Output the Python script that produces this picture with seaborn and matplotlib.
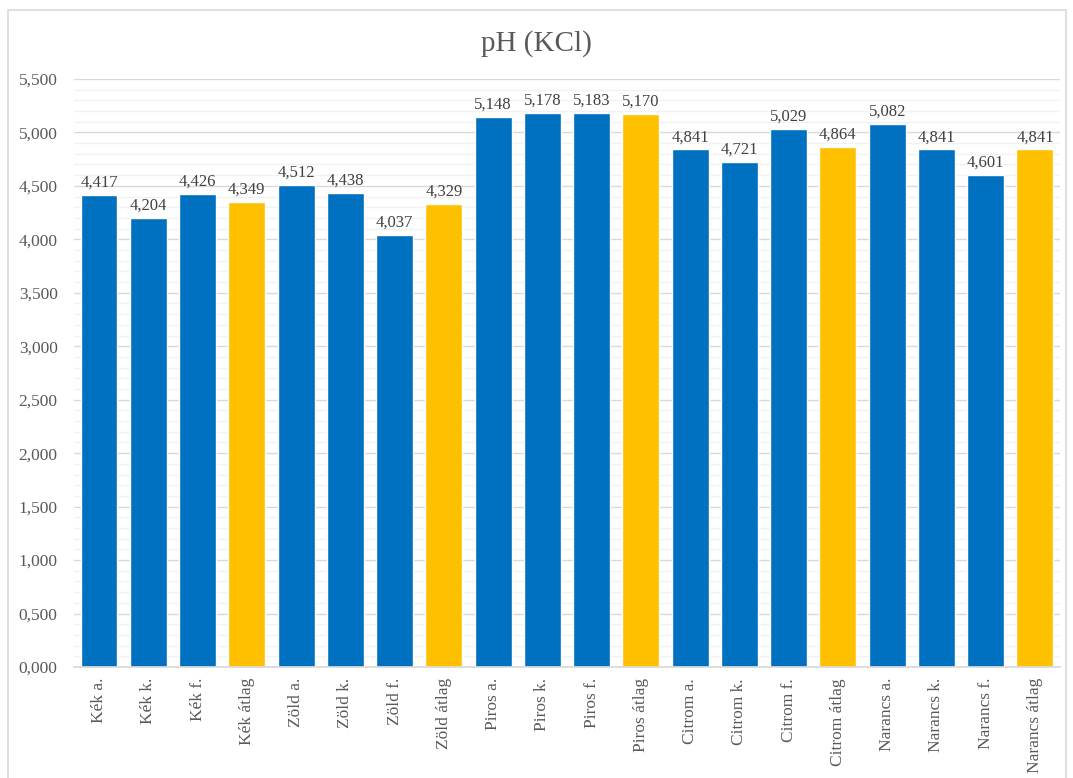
import matplotlib
matplotlib.use("Agg")
import matplotlib.pyplot as plt
import seaborn as sns
import pandas as pd
from matplotlib.ticker import MultipleLocator, FuncFormatter
from matplotlib.patches import Rectangle

categories = ["Kék a.", "Kék k.", "Kék f.", "Kék átlag",
              "Zöld a.", "Zöld k.", "Zöld f.", "Zöld átlag",
              "Piros a.", "Piros k.", "Piros f.", "Piros átlag",
              "Citrom a.", "Citrom k.", "Citrom f.", "Citrom átlag",
              "Narancs a.", "Narancs k.", "Narancs f.", "Narancs átlag"]
values = [4.417, 4.204, 4.426, 4.349,
          4.512, 4.438, 4.037, 4.329,
          5.148, 5.178, 5.183, 5.170,
          4.841, 4.721, 5.029, 4.864,
          5.082, 4.841, 4.601, 4.841]
kinds = ["avg" if c.endswith("átlag") else "sample" for c in categories]

df = pd.DataFrame({"cat": categories, "val": values, "kind": kinds})

sns.set_theme(style="white")
plt.rcParams['font.family'] = ['Liberation Serif', 'DejaVu Serif']

fig = plt.figure(figsize=(10.73, 7.78), dpi=100)
ax = fig.add_axes([0.0693, 0.1427, 0.9182, 0.7558])

sns.barplot(data=df, x="cat", y="val", hue="kind", dodge=False,
            palette={"sample": "#0070C0", "avg": "#FFC000"},
            width=0.75, ax=ax, legend=False, saturation=1)

ax.set_ylim(0, 5.5)
ax.set_xlim(-0.5, len(categories) - 0.5)
ax.yaxis.set_major_locator(MultipleLocator(0.5))
ax.yaxis.set_minor_locator(MultipleLocator(0.1))
ax.yaxis.set_major_formatter(FuncFormatter(lambda v, p: f"{v:,.3f}".replace(".", ",")))
ax.grid(axis="y", which="major", color="#D9D9D9", linewidth=1.0)
ax.grid(axis="y", which="minor", color="#F2F2F2", linewidth=1.0)
ax.set_axisbelow(True)
for s in ["top", "right", "left"]:
    ax.spines[s].set_visible(False)
ax.spines["bottom"].set_color("#D9D9D9")
ax.tick_params(axis="y", which="both", length=0, labelsize=12.5, labelcolor="#595959", pad=12)
ax.tick_params(axis="x", length=0, labelsize=12.5, labelcolor="#595959", pad=8)
plt.setp(ax.get_xticklabels(), rotation=90)
ax.set_xlabel("")
ax.set_ylabel("")

for i, v in enumerate(values):
    ax.text(i, v + 0.04, f"{v:.3f}".replace(".", ","), ha="center", va="bottom",
            fontsize=12, color="#404040")

fig.text(0.5, 0.944, "pH (KCl)", ha="center", va="center", fontsize=21, color="#595959")

fig.patches.append(Rectangle((8/1073, -0.01), (1066-8)/1073, 1 - 10/778 + 0.01,
                             transform=fig.transFigure, fill=False,
                             edgecolor="#D9D9D9", linewidth=1.2))

fig.savefig("out.png", dpi=100)
